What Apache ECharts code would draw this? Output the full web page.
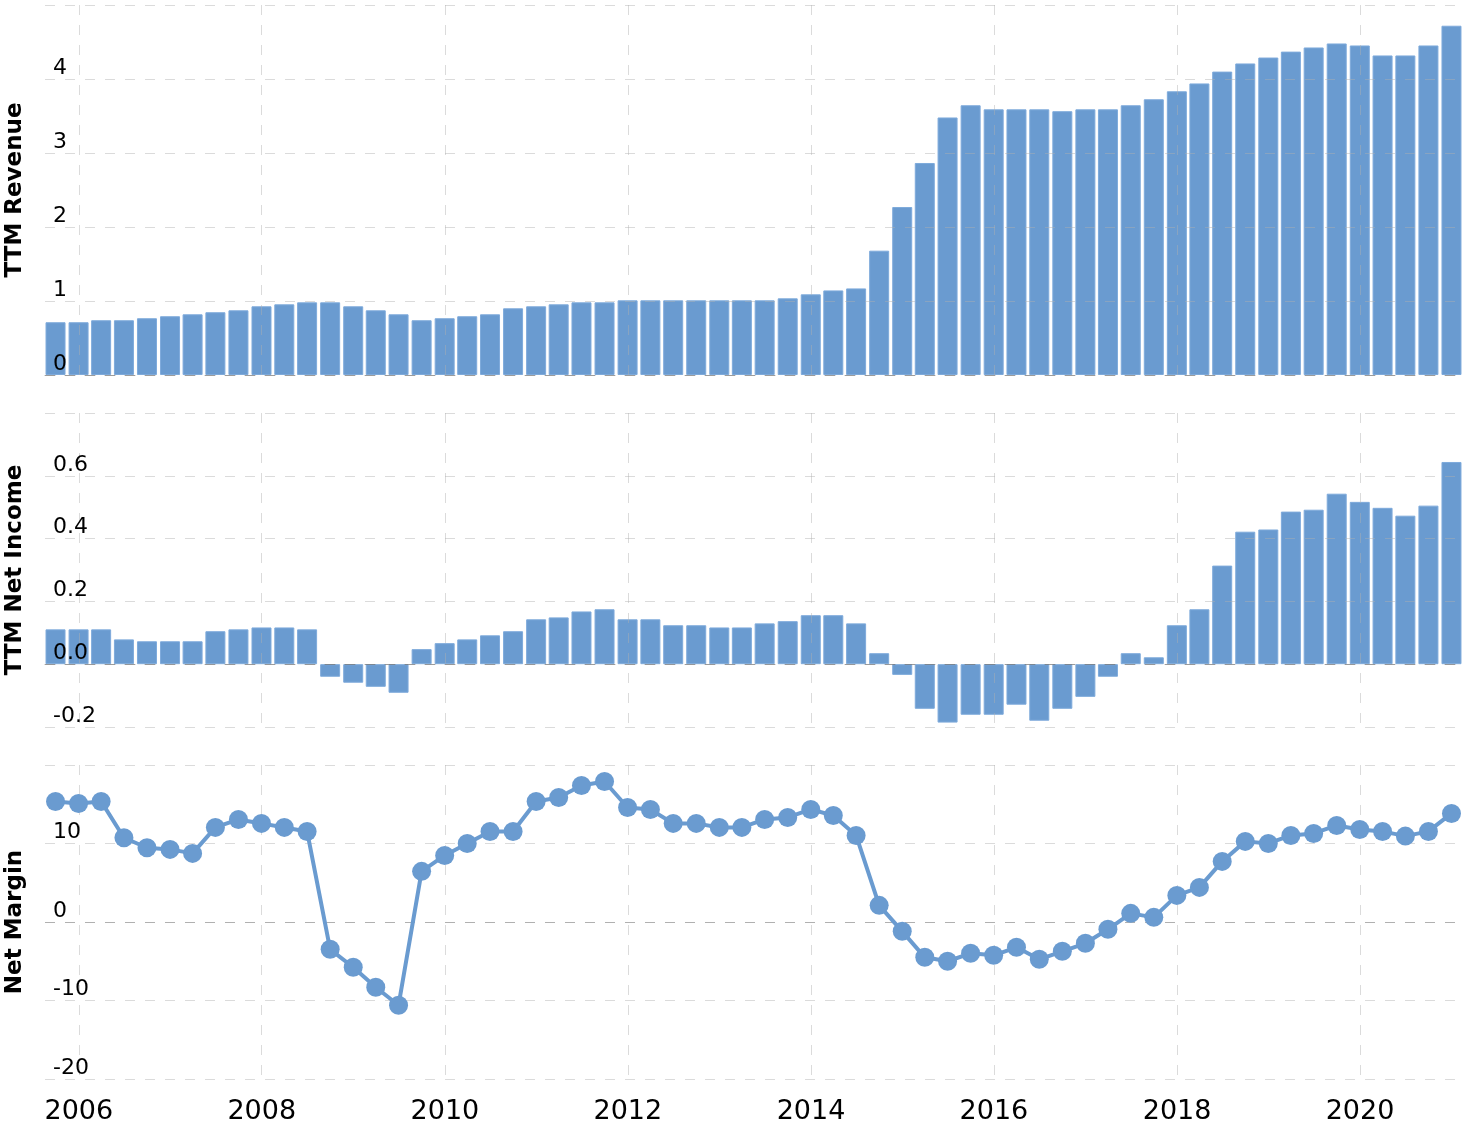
<!DOCTYPE html>
<html>
<head>
<meta charset="utf-8">
<script src="https://cdn.jsdelivr.net/npm/echarts@6/dist/echarts.min.js"></script>
<style>
html,body{margin:0;padding:0;background:#fff;}
#chart{width:1464px;height:1128px;}
</style>
</head>
<body>
<div id="chart"></div>
<script>
// Quarter-end dates (categories)
const quarters = [
 '2005-09-30','2005-12-31',
 '2006-03-31','2006-06-30','2006-09-30','2006-12-31',
 '2007-03-31','2007-06-30','2007-09-30','2007-12-31',
 '2008-03-31','2008-06-30','2008-09-30','2008-12-31',
 '2009-03-31','2009-06-30','2009-09-30','2009-12-31',
 '2010-03-31','2010-06-30','2010-09-30','2010-12-31',
 '2011-03-31','2011-06-30','2011-09-30','2011-12-31',
 '2012-03-31','2012-06-30','2012-09-30','2012-12-31',
 '2013-03-31','2013-06-30','2013-09-30','2013-12-31',
 '2014-03-31','2014-06-30','2014-09-30','2014-12-31',
 '2015-03-31','2015-06-30','2015-09-30','2015-12-31',
 '2016-03-31','2016-06-30','2016-09-30','2016-12-31',
 '2017-03-31','2017-06-30','2017-09-30','2017-12-31',
 '2018-03-31','2018-06-30','2018-09-30','2018-12-31',
 '2019-03-31','2019-06-30','2019-09-30','2019-12-31',
 '2020-03-31','2020-06-30','2020-09-30','2020-12-31'
];

// TTM Revenue
const revenue = [
 0.713,0.713,0.74,0.74,0.767,0.794,0.82,0.848,0.874,0.928,
 0.955,0.982,0.982,0.928,0.874,0.82,0.74,0.767,0.794,0.82,
 0.901,0.928,0.955,0.982,0.982,1.009,1.009,1.009,1.009,1.009,
 1.009,1.009,1.036,1.09,1.143,1.17,1.68,2.27,2.865,3.48,
 3.645,3.59,3.59,3.59,3.565,3.59,3.59,3.645,3.726,3.834,
 3.94,4.10,4.21,4.29,4.37,4.426,4.48,4.453,4.318,4.318,
 4.453,4.72
];

// TTM Net Income
const netIncome = [
 0.111,0.111,0.111,0.079,0.073,0.073,0.073,0.105,0.111,0.117,
 0.117,0.111,-0.040,-0.059,-0.072,-0.091,0.048,0.067,0.079,0.092,
 0.105,0.143,0.149,0.168,0.175,0.143,0.143,0.124,0.124,0.117,
 0.117,0.130,0.137,0.156,0.156,0.130,0.035,-0.034,-0.142,-0.186,
 -0.161,-0.161,-0.129,-0.180,-0.142,-0.104,-0.040,0.035,0.022,0.124,
 0.175,0.314,0.422,0.429,0.486,0.492,0.543,0.517,0.498,0.473,
 0.505,0.644
];

// Net Margin (%)
const netMargin = [
 15.36,15.1,15.36,10.73,9.46,9.25,8.74,12.05,13.06,12.56,
 12.05,11.54,-3.48,-5.77,-8.31,-10.6,6.45,8.48,10.01,11.54,
 11.54,15.36,15.86,17.39,17.9,14.59,14.34,12.56,12.56,12.05,
 12.05,13.06,13.32,14.34,13.57,11.03,2.12,-1.19,-4.5,-5.0,
 -3.99,-4.24,-3.22,-4.75,-3.73,-2.71,-0.93,1.10,0.59,3.39,
 4.41,7.72,10.27,10.01,11.03,11.28,12.30,11.79,11.54,10.94,
 11.54,13.83
];

// X tick labels (years)
const yearTicks = ['2006-01-01','2008-01-01','2010-01-01','2012-01-01','2014-01-01','2016-01-01','2018-01-01','2020-01-01'];
const xRange = ['2005-08-19', '2021-02-03'];

const FONT = 'DejaVu Sans';
const BLUE = '#6a9bd0';
const GRID_C = 'rgba(175,175,175,0.45)';
const ZERO_C = 'rgba(80,80,80,0.45)';
const DASH = [10, 10];
const t = s => Date.parse(s + 'T00:00:00Z');
const tickVals = yearTicks.map(t);

function xAxisFor(i) {
  return {
    type: 'value', gridIndex: i,
    min: t(xRange[0]), max: t(xRange[1]),
    z: i < 2 ? 5 : 0,
    axisLine: { show: i < 2, onZero: true, lineStyle: { color: ZERO_C, type: DASH, width: 1 } },
    axisTick: { show: false, customValues: tickVals },
    axisLabel: { show: i === 2, customValues: tickVals, showMinLabel: true, showMaxLabel: true,
      formatter: v => String(new Date(v).getUTCFullYear()),
      fontFamily: FONT, fontSize: 27, color: '#000', margin: 19 },
    splitLine: { show: true, lineStyle: { color: GRID_C, type: DASH, width: 1 } }
  };
}

function yAxisFor(i, min, max, interval, name, fmt, splitColors) {
  return {
    type: 'value', gridIndex: i, min: min, max: max, interval: interval,
    z: i < 2 ? 5 : 0,
    name: name, nameLocation: 'middle', nameGap: 18,
    nameTextStyle: { fontFamily: FONT, fontSize: 23, fontWeight: 'bold', color: '#000' },
    axisLine: { show: false }, axisTick: { show: false },
    axisLabel: { inside: true, showMaxLabel: false, verticalAlign: 'bottom', margin: 8,
      fontFamily: FONT, fontSize: 22, color: '#000', formatter: fmt },
    splitLine: { show: true, lineStyle: { color: splitColors, type: DASH, width: 1 } }
  };
}

const chart = echarts.init(document.getElementById('chart'), null, { renderer: 'canvas' });
const barStyle = { color: BLUE, borderColor: '#7eaadb', borderWidth: 1 };
const gridBase = { left: 45, right: 4, containLabel: false, outerBoundsMode: 'none' };

chart.setOption({
  animation: false,
  backgroundColor: '#fff',
  grid: [
    Object.assign({ top: 5, height: 370 }, gridBase),
    Object.assign({ top: 413, height: 314 }, gridBase),
    Object.assign({ top: 765, height: 314 }, gridBase)
  ],
  xAxis: [xAxisFor(0), xAxisFor(1), xAxisFor(2)],
  yAxis: [
    yAxisFor(0, 0, 5, 1, 'TTM Revenue', v => String(v), GRID_C),
    yAxisFor(1, -0.2, 0.8, 0.2, 'TTM Net Income', v => v.toFixed(1), GRID_C),
    yAxisFor(2, -20, 20, 10, 'Net Margin', v => String(v), [GRID_C, GRID_C, ZERO_C, GRID_C, GRID_C])
  ],
  series: [
    { type: 'bar', xAxisIndex: 0, yAxisIndex: 0, barWidth: 20, itemStyle: barStyle,
      data: quarters.map((d, i) => [t(d), revenue[i]]) },
    { type: 'bar', xAxisIndex: 1, yAxisIndex: 1, barWidth: 20, itemStyle: barStyle,
      data: quarters.map((d, i) => [t(d), netIncome[i]]) },
    { type: 'line', xAxisIndex: 2, yAxisIndex: 2, symbol: 'circle', symbolSize: 19,
      itemStyle: { color: BLUE }, lineStyle: { color: BLUE, width: 4 },
      data: quarters.map((d, i) => [t(d), netMargin[i]]) }
  ]
});
</script>
</body>
</html>
